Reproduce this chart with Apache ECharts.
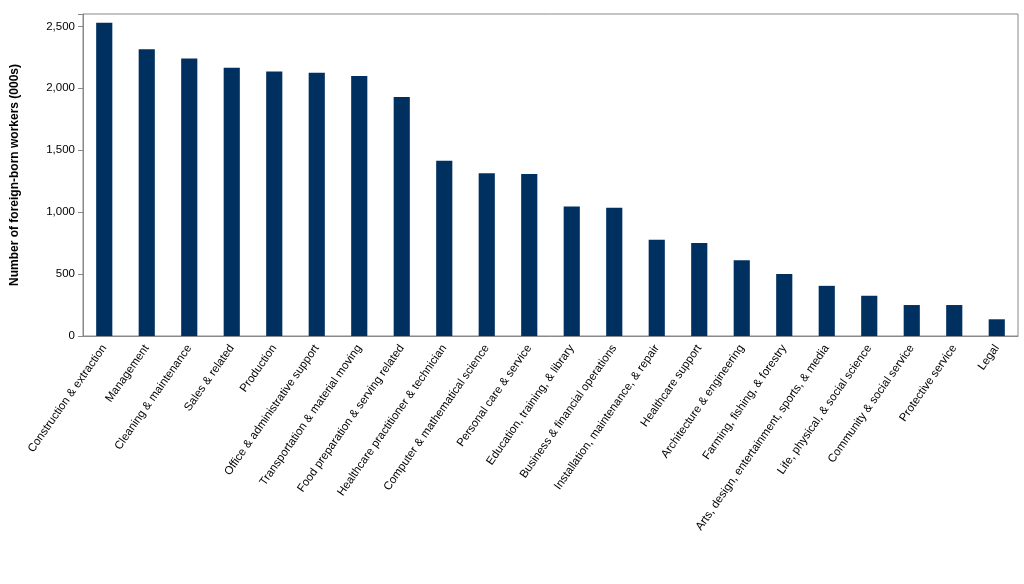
<!DOCTYPE html><html><head><meta charset="utf-8"><script src="https://cdn.jsdelivr.net/npm/echarts@6/dist/echarts.min.js"></script>
<style>html,body{margin:0;background:#fff}#c{width:1024px;height:584px}</style></head><body><div id="c"></div><script>
const categories=["Construction & extraction","Management","Cleaning & maintenance","Sales & related","Production","Office & administrative support","Transportation & material moving","Food preparation & serving related","Healthcare practitioner & technician","Computer & mathematical science","Personal care & service","Education, training, & library","Business & financial operations","Installation, maintenance, & repair","Healthcare support","Architecture & engineering","Farming, fishing, & forestry","Arts, design, entertainment, sports, & media","Life, physical, & social science","Community & social service","Protective service","Legal"];
const values=[2530,2315,2240,2165,2135,2125,2100,1930,1415,1315,1308,1045,1035,778,750,612,500,405,325,250,250,135];
const yTicks=[0,500,1000,1500,2000,2500];
const chart=echarts.init(document.getElementById('c'));
chart.setOption({animation:false,
grid:{left:83,right:6,top:14,bottom:248,show:true,borderColor:'#888',borderWidth:1},
xAxis:{type:'category',data:categories,axisTick:{show:false},axisLine:{lineStyle:{color:'#888'}},
 axisLabel:{interval:0,rotate:55,color:'#000',fontFamily:'Liberation Sans, Arial',fontSize:11.5,margin:10}},
yAxis:{type:'value',min:0,max:2600,interval:500,splitLine:{show:false},axisLine:{show:true,lineStyle:{color:'#888'}},axisTick:{show:true,lineStyle:{color:'#888'}},
 name:'Number of foreign-born workers (000s)',nameLocation:'middle',nameGap:62,nameRotate:90,
 nameTextStyle:{fontWeight:'bold',fontSize:12,color:'#000',fontFamily:'Liberation Sans, Arial'},
 axisLabel:{color:'#000',fontSize:11.5,fontFamily:'Liberation Sans, Arial',
  formatter:v=>yTicks.includes(v)?v.toLocaleString('en-US'):''}},
series:[{type:'bar',data:values,barCategoryGap:'62%',itemStyle:{color:'#003060'}}]});
</script></body></html>
